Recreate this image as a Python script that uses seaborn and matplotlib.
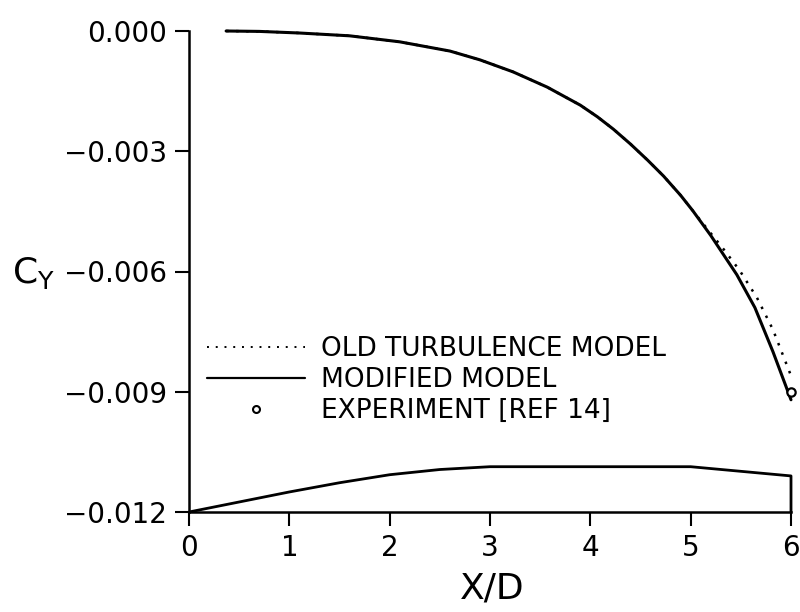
import matplotlib
matplotlib.use("Agg")
import matplotlib.pyplot as plt
import seaborn as sns
import pandas as pd
from matplotlib.lines import Line2D

# ---- data ----
x_mod = [0.37, 0.7, 1.1, 1.6, 2.1, 2.6, 2.9, 3.23, 3.57, 3.9, 4.07, 4.23, 4.4, 4.57,
         4.73, 4.9, 5.02, 5.2, 5.46, 5.64, 5.82, 6.0]
cy_mod = [0.0, -0.00001, -0.00005, -0.00012, -0.00027, -0.0005, -0.00072, -0.00102,
          -0.0014, -0.00185, -0.00214, -0.00245, -0.00282, -0.00322, -0.00362, -0.0041,
          -0.00448, -0.0051, -0.00608, -0.0069, -0.008, -0.0092]
x_old = [0.37, 0.7, 1.1, 1.6, 2.1, 2.6, 2.9, 3.23, 3.57, 3.9, 4.07, 4.23, 4.4, 4.57,
         4.73, 4.9, 5.02, 5.16, 5.33, 5.49, 5.66, 5.82, 6.0]
cy_old = [0.0, -0.00001, -0.00005, -0.00012, -0.00027, -0.0005, -0.00072, -0.00102,
          -0.0014, -0.00185, -0.00214, -0.00245, -0.00282, -0.00322, -0.00362, -0.0041,
          -0.00448, -0.00492, -0.00545, -0.00598, -0.00665, -0.00745, -0.0086]
x_exp = [6.0]
cy_exp = [-0.0090]
# body silhouette drawn along the bottom of the plot
body_x = [0.0, 0.5, 1.0, 1.5, 2.0, 2.5, 3.0, 5.0, 6.0, 6.0]
body_y = [-0.012, -0.01175, -0.0115, -0.01127, -0.01107, -0.01094, -0.01087, -0.01087, -0.0111, -0.012]

x_ticks = [0, 1, 2, 3, 4, 5, 6]
y_ticks = [0.0, -0.003, -0.006, -0.009, -0.012]
y_tick_labels = ["0.000", "\u22120.003", "\u22120.006", "\u22120.009", "\u22120.012"]
legend_labels = ["OLD TURBULENCE MODEL", "MODIFIED MODEL", "EXPERIMENT [REF 14]"]

sns.set_theme(style="ticks")
plt.rcParams["font.family"] = ["DejaVu Sans"]
plt.rcParams["text.color"] = "black"
plt.rcParams["xtick.color"] = "black"
plt.rcParams["ytick.color"] = "black"

fig = plt.figure(figsize=(8.0, 6.12), dpi=100)
ax = fig.add_axes([189 / 800, 1 - 512 / 612, (791 - 189) / 800, (512 - 31) / 612])

df_old = pd.DataFrame({"x": x_old, "cy": cy_old})
df_mod = pd.DataFrame({"x": x_mod, "cy": cy_mod})
df_exp = pd.DataFrame({"x": x_exp, "cy": cy_exp})
df_body = pd.DataFrame({"x": body_x, "cy": body_y})

sns.lineplot(data=df_old, x="x", y="cy", ax=ax, color="black", lw=1.8,
             linestyle=(0, (1, 3)), estimator=None, sort=False)
sns.lineplot(data=df_mod, x="x", y="cy", ax=ax, color="black", lw=2.2,
             estimator=None, sort=False)
sns.lineplot(data=df_body, x="x", y="cy", ax=ax, color="black", lw=2.0,
             estimator=None, sort=False)
ax.plot(df_exp["x"], df_exp["cy"], linestyle="none", marker="o", ms=6,
        mfc="white", mec="black", mew=1.6)

for ln in ax.lines:
    ln.set_clip_on(False)
    ln.set_solid_joinstyle("round")

ax.set_xlim(0, 6)
ax.set_ylim(-0.012, 0.0)
ax.set_xticks(x_ticks)
ax.set_xticklabels([str(t) for t in x_ticks])
ax.set_yticks(y_ticks)
ax.set_yticklabels(y_tick_labels)
ax.tick_params(axis="both", direction="out", length=10, width=1.5, labelsize=20,
               color="black", labelcolor="black", pad=6)
for s in ["top", "right"]:
    ax.spines[s].set_visible(False)
for s in ["left", "bottom"]:
    ax.spines[s].set_linewidth(1.8)
    ax.spines[s].set_color("black")
ax.set_xlabel("")
ax.set_ylabel("")

fig.text(492 / 800, 1 - 588 / 612, "X/D", fontsize=26, ha="center", va="center", color="black")
fig.text(12 / 800, 1 - 273 / 612, r"C$_\mathregular{Y}$", fontsize=26, ha="left", va="center",
         color="black")

handles = [
    Line2D([], [], color="black", lw=1.4, linestyle=(0, (1, 3.5))),
    Line2D([], [], color="black", lw=1.6),
    Line2D([], [], linestyle="none", marker="o", ms=5, mfc="white", mec="black", mew=1.5),
]
leg = ax.legend(handles, legend_labels, loc="upper left", bbox_to_anchor=(0.03, 0.365),
                frameon=False, fontsize=19, handlelength=3.7, handletextpad=0.6,
                labelspacing=0.18, borderpad=0, borderaxespad=0)
for t in leg.get_texts():
    t.set_color("black")

fig.savefig("out.png", dpi=100)
